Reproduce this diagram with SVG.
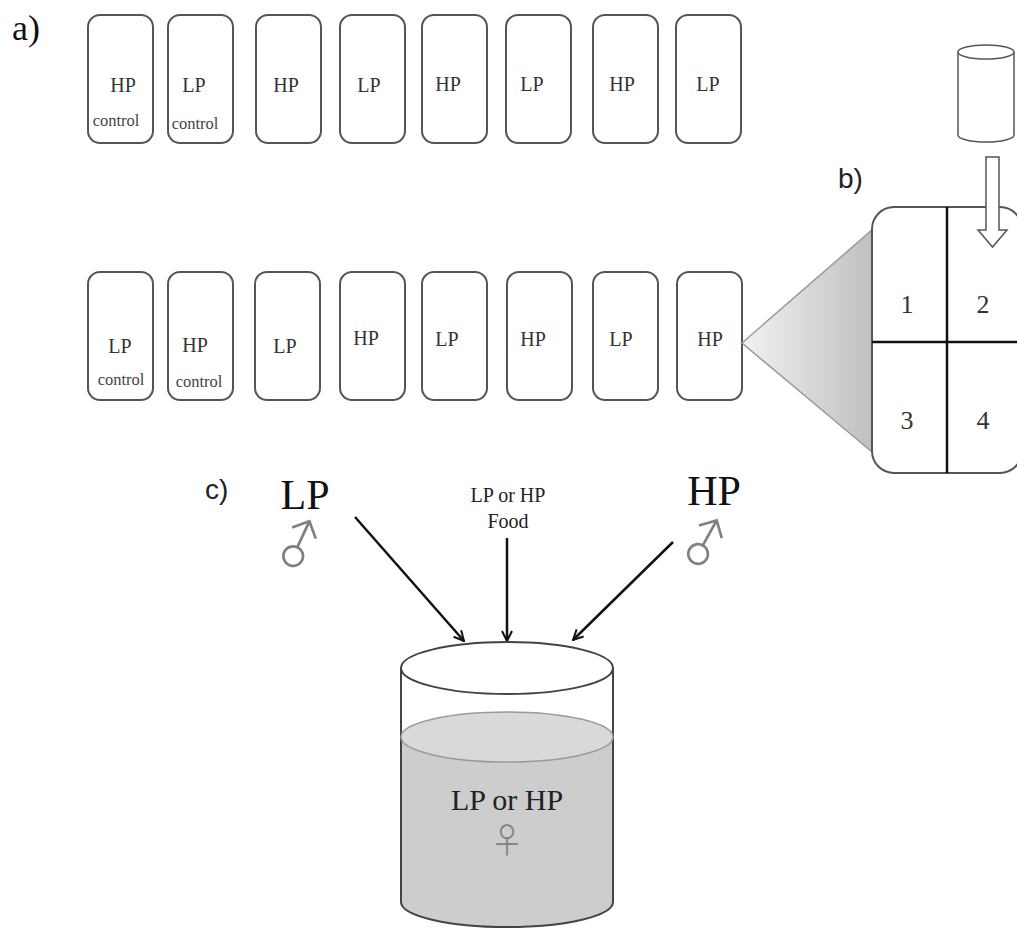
<svg xmlns="http://www.w3.org/2000/svg" width="1017" height="929" viewBox="0 0 1017 929">
<style>
.box{fill:#fff;stroke:#555;stroke-width:2}
.lbl{font-family:"Liberation Serif",serif;font-size:20px;fill:#333;text-anchor:middle}
.ctl{font-family:"Liberation Serif",serif;font-size:16.5px;fill:#444;text-anchor:middle}
.panel{font-family:"Liberation Sans",sans-serif;font-size:28px;fill:#222}
.pa{font-family:"Liberation Serif",serif;font-size:36px;fill:#111}
.big{font-family:"Liberation Serif",serif;font-size:42px;fill:#111;text-anchor:middle}
.sym{font-family:"Noto Sans CJK JP","Noto Sans CJK SC",sans-serif;font-weight:300;fill:#808080;text-anchor:middle}
.num{font-family:"Liberation Serif",serif;font-size:26px;fill:#333;text-anchor:middle}
.food{font-family:"Liberation Serif",serif;font-size:20px;fill:#222;text-anchor:middle}
.inner{font-family:"Liberation Serif",serif;font-size:30px;fill:#222;text-anchor:middle}
.arr{stroke:#111;stroke-width:2.5;fill:none}
</style>
<defs>
<marker id="ah" viewBox="0 0 12 12" refX="11" refY="6" markerWidth="12" markerHeight="12" markerUnits="userSpaceOnUse" orient="auto">
<path d="M1,1 L11,6 L1,11" fill="none" stroke="#111" stroke-width="2"/>
</marker>
<linearGradient id="tri" x1="0" y1="0" x2="1" y2="0">
<stop offset="0" stop-color="#f2f2f2"/>
<stop offset="1" stop-color="#c0c0c0"/>
</linearGradient>
</defs>
<rect width="1017" height="929" fill="#fff"/>
<text class="pa" x="12" y="40">a)</text>
<text class="panel" x="838" y="188">b)</text>
<text class="panel" x="205" y="499">c)</text>

<!-- top row -->
<g id="t1"><rect class="box" x="88" y="15" width="65" height="128" rx="12"/><text class="lbl" x="123" y="92">HP</text><text class="ctl" x="116" y="126">control</text></g>
<g id="t2"><rect class="box" x="168" y="15" width="65" height="128" rx="12"/><text class="lbl" x="194" y="92">LP</text><text class="ctl" x="195" y="129">control</text></g>
<g id="t3"><rect class="box" x="256" y="15" width="65" height="128" rx="12"/><text class="lbl" x="286" y="92">HP</text></g>
<g id="t4"><rect class="box" x="340" y="15" width="65" height="128" rx="12"/><text class="lbl" x="369" y="92">LP</text></g>
<g id="t5"><rect class="box" x="422" y="15" width="65" height="128" rx="12"/><text class="lbl" x="448" y="91">HP</text></g>
<g id="t6"><rect class="box" x="506" y="15" width="65" height="128" rx="12"/><text class="lbl" x="532" y="91">LP</text></g>
<g id="t7"><rect class="box" x="593" y="15" width="65" height="128" rx="12"/><text class="lbl" x="622" y="91">HP</text></g>
<g id="t8"><rect class="box" x="676" y="15" width="65" height="128" rx="12"/><text class="lbl" x="708" y="91">LP</text></g>

<!-- bottom row -->
<g id="b1"><rect class="box" x="88" y="272" width="65" height="128" rx="12"/><text class="lbl" x="120" y="353">LP</text><text class="ctl" x="121" y="385">control</text></g>
<g id="b2"><rect class="box" x="168" y="272" width="65" height="128" rx="12"/><text class="lbl" x="195" y="352">HP</text><text class="ctl" x="199" y="387">control</text></g>
<g id="b3"><rect class="box" x="255" y="272" width="65" height="128" rx="12"/><text class="lbl" x="285" y="353">LP</text></g>
<g id="b4"><rect class="box" x="340" y="272" width="65" height="128" rx="12"/><text class="lbl" x="366" y="345">HP</text></g>
<g id="b5"><rect class="box" x="422" y="272" width="65" height="128" rx="12"/><text class="lbl" x="447" y="346">LP</text></g>
<g id="b6"><rect class="box" x="507" y="272" width="65" height="128" rx="12"/><text class="lbl" x="533" y="346">HP</text></g>
<g id="b7"><rect class="box" x="593" y="272" width="65" height="128" rx="12"/><text class="lbl" x="621" y="346">LP</text></g>
<g id="b8"><rect class="box" x="677" y="272" width="65" height="128" rx="12"/><text class="lbl" x="710" y="346">HP</text></g>

<!-- b) panel -->
<g id="zoom-triangle"><polygon points="742,343 872,230 872,452" fill="url(#tri)" stroke="#999" stroke-width="1.5"/></g>
<g id="arena">
<rect x="872" y="207" width="150" height="266" rx="22" fill="#fff" stroke="#555" stroke-width="2"/>
<line x1="947" y1="207" x2="947" y2="473" stroke="#111" stroke-width="2.5"/>
<line x1="872" y1="342" x2="1017" y2="342" stroke="#111" stroke-width="2.5"/>
<text class="num" x="907" y="313">1</text>
<text class="num" x="983" y="313">2</text>
<text class="num" x="907" y="429">3</text>
<text class="num" x="983" y="429">4</text>
</g>
<g id="small-cyl">
<path d="M958,52 L958,135 A28,7 0 0 0 1014,135 L1014,52" fill="#fff" stroke="#555" stroke-width="1.5"/>
<ellipse cx="986" cy="52" rx="28" ry="7" fill="#fff" stroke="#555" stroke-width="1.5"/>
</g>
<g id="hollow-arrow"><polygon points="986,157 999,157 999,230 1007,230 992.5,247 978,230 986,230" fill="#fff" stroke="#555" stroke-width="1.5"/></g>

<!-- c) panel -->
<g id="lp-male"><text class="big" x="305" y="509">LP</text><text class="sym" font-size="54" transform="translate(294,555) rotate(-20)" x="8.2" y="11.8">♂</text></g>
<g id="hp-male"><text class="big" x="714" y="505">HP</text><text class="sym" font-size="54" transform="translate(699,553) rotate(-16)" x="8.2" y="11.8">♂</text></g>
<g id="food"><text class="food" x="508" y="502">LP or HP</text><text class="food" x="508" y="528">Food</text></g>

<g id="connectors">
<line class="arr" x1="355" y1="517" x2="464" y2="641" marker-end="url(#ah)"/>
<line class="arr" x1="507" y1="538" x2="507" y2="641" marker-end="url(#ah)"/>
<line class="arr" x1="673" y1="542" x2="573" y2="640" marker-end="url(#ah)"/>
</g>

<g id="beaker">
<path d="M401,737 L401,902 A106,25 0 0 0 613,902 L613,737 Z" fill="#cdcdcd" stroke="none"/>
<path d="M401,668 L401,902 A106,25 0 0 0 613,902 L613,668" fill="none" stroke="#444" stroke-width="2"/>
<ellipse cx="507" cy="737" rx="106" ry="25" fill="#d9d9d9" stroke="#999" stroke-width="1.5"/>
<ellipse cx="507" cy="668" rx="106" ry="26" fill="#fff" stroke="#444" stroke-width="2"/>
<text class="inner" x="507" y="810">LP or HP</text>
<text class="sym" x="507" y="853" font-size="34">♀</text>
</g>
</svg>
